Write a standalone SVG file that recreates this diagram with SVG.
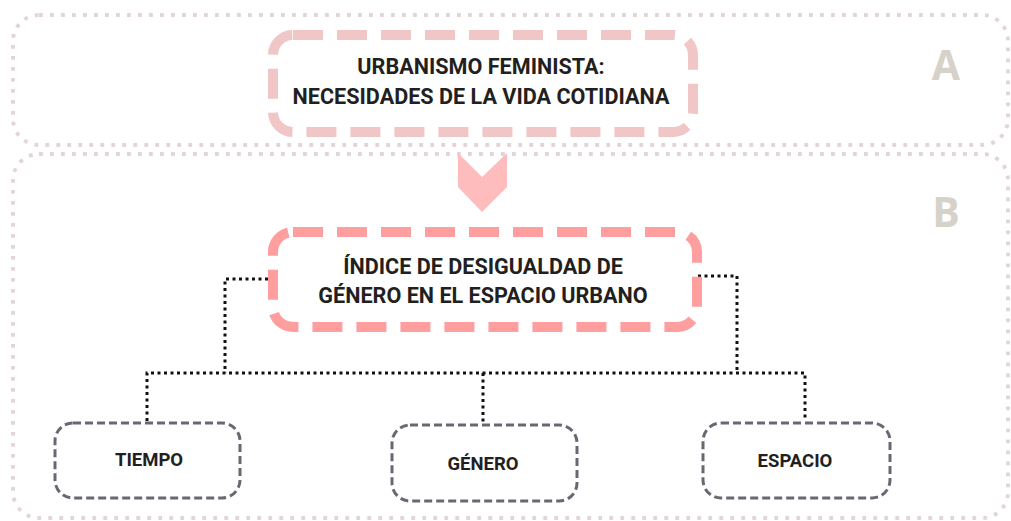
<svg xmlns="http://www.w3.org/2000/svg" width="1011" height="521" viewBox="0 0 1011 521">
<style>
.zone{fill:none;stroke:#e3d4d7;stroke-width:3.8;stroke-dasharray:3.8 7.2}
.zl{font-family:"Open Sans","Liberation Sans",sans-serif;font-weight:700;font-size:41px;fill:#d6d1c9;text-anchor:middle}
.t{font-family:Roboto,"Liberation Sans",sans-serif;font-weight:700;fill:#231f20;text-anchor:middle}
.big{font-size:21.6px}
.sm{font-size:18.5px}
.conn{fill:none;stroke:#111;stroke-width:3;stroke-dasharray:3 3.5}
.leaf{fill:#fff;stroke:#6c6672;stroke-width:3;stroke-dasharray:8 4}
</style>
<rect width="1011" height="521" fill="#fff"/>
<g id="zoneA">
<rect class="zone" x="13" y="15" width="995" height="130" rx="26"/>
<text class="zl" x="946" y="80">A</text>
</g>
<g id="zoneB">
<rect class="zone" x="13" y="154" width="995" height="364" rx="26"/>
<text class="zl" x="946" y="227">B</text>
</g>
<g id="connectors">
<polygon points="458,153 482,177 507,153 507,187 482,212 458,187" fill="#ffbcbc"/>
<polyline class="conn" points="268,279 225,279 225,373"/>
<polyline class="conn" points="698,276 737,276 737,373"/>
<polyline class="conn" points="147,421 147,373 805,373 805,421"/>
<line class="conn" x1="483" y1="373" x2="483" y2="424"/>
</g>
<g id="urbanismo">
<rect x="273" y="35" width="420" height="97" rx="20" fill="#fff" stroke="#f0c6c7" stroke-width="10" stroke-dasharray="30 14"/>
<text class="t big" x="481" y="74">URBANISMO FEMINISTA:</text>
<text class="t big" x="481" y="104">NECESIDADES DE LA VIDA COTIDIANA</text>
</g>
<g id="indice">
<rect x="273" y="232" width="424" height="95" rx="20" fill="#fff" stroke="#ff9e9e" stroke-width="10" stroke-dasharray="30 14"/>
<text class="t big" x="483" y="274">ÍNDICE DE DESIGUALDAD DE</text>
<text class="t big" x="483" y="303">GÉNERO EN EL ESPACIO URBANO</text>
</g>
<g id="tiempo">
<rect class="leaf" x="55" y="423" width="185" height="75" rx="18"/>
<text class="t sm" x="149" y="466">TIEMPO</text>
</g>
<g id="genero">
<rect class="leaf" x="392" y="425" width="185" height="76" rx="18"/>
<text class="t sm" x="483" y="470">GÉNERO</text>
</g>
<g id="espacio">
<rect class="leaf" x="703" y="423" width="187" height="75" rx="18"/>
<text class="t sm" x="795" y="467">ESPACIO</text>
</g>
</svg>
